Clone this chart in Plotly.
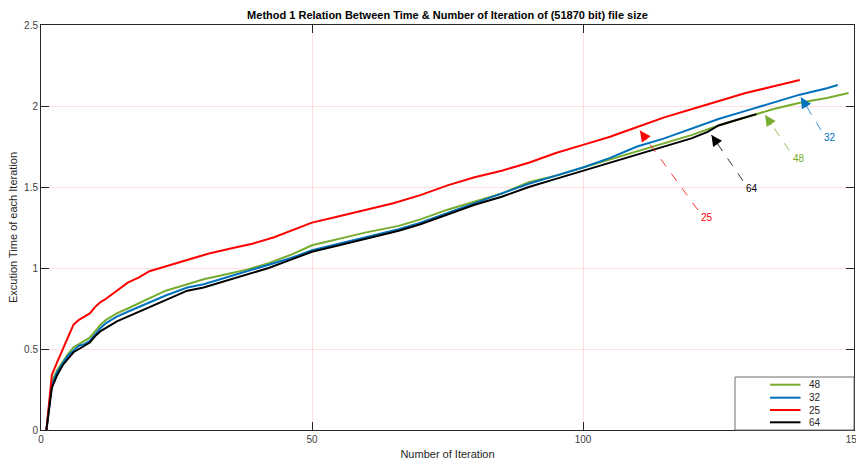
import plotly.graph_objects as go

# ---------------- data ----------------
names = ["48", "32", "25", "64"]
colors = ["#77AC30", "#0072BD", "#FF0000", "#000000"]

x48 = [1, 2, 3, 4, 5, 6, 7, 8, 9, 10, 11, 12, 14, 16, 18, 20, 23, 27, 30, 34, 38, 42, 46, 50, 55, 60, 66, 70, 75, 80, 85, 90, 95, 100, 105, 110, 115, 120, 125, 130, 135, 140, 145, 149]
y48 = [0, 0.30, 0.37, 0.42, 0.47, 0.51, 0.53, 0.55, 0.57, 0.61, 0.65, 0.68, 0.72, 0.75, 0.78, 0.81, 0.86, 0.90, 0.93, 0.96, 0.99, 1.03, 1.08, 1.14, 1.18, 1.22, 1.26, 1.30, 1.36, 1.41, 1.46, 1.53, 1.57, 1.62, 1.67, 1.72, 1.77, 1.82, 1.88, 1.93, 1.98, 2.02, 2.05, 2.08]

x32 = [1, 2, 3, 4, 5, 6, 7, 8, 9, 10, 11, 12, 14, 16, 18, 20, 23, 27, 30, 34, 38, 42, 46, 50, 55, 60, 66, 70, 75, 80, 85, 90, 95, 100, 105, 110, 115, 120, 125, 130, 135, 140, 145, 147]
y32 = [0, 0.28, 0.36, 0.41, 0.46, 0.49, 0.52, 0.53, 0.55, 0.59, 0.63, 0.66, 0.70, 0.73, 0.76, 0.79, 0.83, 0.88, 0.90, 0.94, 0.98, 1.02, 1.06, 1.11, 1.15, 1.19, 1.24, 1.28, 1.34, 1.40, 1.46, 1.52, 1.57, 1.62, 1.68, 1.75, 1.80, 1.86, 1.92, 1.97, 2.02, 2.07, 2.11, 2.13]

x25 = [1, 2, 3, 4, 5, 6, 7, 8, 9, 10, 11, 12, 14, 16, 18, 20, 22, 25, 28, 31, 35, 39, 43, 47, 50, 55, 60, 65, 70, 75, 80, 85, 90, 95, 100, 105, 110, 115, 120, 125, 130, 135, 140]
y25 = [0, 0.34, 0.42, 0.50, 0.58, 0.65, 0.68, 0.70, 0.72, 0.76, 0.79, 0.81, 0.86, 0.91, 0.94, 0.98, 1.00, 1.03, 1.06, 1.09, 1.12, 1.15, 1.19, 1.24, 1.28, 1.32, 1.36, 1.40, 1.45, 1.51, 1.56, 1.60, 1.65, 1.71, 1.76, 1.81, 1.87, 1.93, 1.98, 2.03, 2.08, 2.12, 2.16]

x64 = [1, 2, 3, 4, 5, 6, 7, 8, 9, 10, 11, 12, 14, 16, 18, 20, 23, 27, 30, 34, 38, 42, 46, 50, 55, 60, 66, 70, 75, 80, 85, 90, 95, 100, 105, 110, 115, 120, 123, 125, 128, 132]
y64 = [0, 0.26, 0.34, 0.40, 0.44, 0.48, 0.50, 0.52, 0.54, 0.58, 0.61, 0.63, 0.67, 0.70, 0.73, 0.76, 0.80, 0.86, 0.88, 0.92, 0.96, 1.00, 1.05, 1.10, 1.14, 1.18, 1.23, 1.27, 1.33, 1.39, 1.44, 1.50, 1.55, 1.60, 1.65, 1.70, 1.75, 1.80, 1.84, 1.88, 1.91, 1.95]

xs = [x48, x32, x25, x64]
ys = [y48, y32, y25, y64]

x_ticks = [0, 50, 100, 150]
y_ticks = [0, 0.5, 1, 1.5, 2, 2.5]

# annotation labels (arrow head, dashed tail start, label position)
ann_head_x = [133.6, 140.2, 110.5, 123.7]
ann_head_y = [1.944, 2.054, 1.848, 1.821]
ann_tail_x = [138.1, 143.9, 121.2, 129.5]
ann_tail_y = [1.724, 1.852, 1.358, 1.539]
ann_text_x = [139.8, 145.6, 122.9, 131.2]
ann_text_y = [1.677, 1.807, 1.313, 1.488]

title = "Method 1 Relation Between Time & Number of Iteration of (51870 bit) file size"
x_title = "Number of Iteration"
y_title = "Excution Time of each Iteration"

FONT = "Arial, 'Liberation Sans', Helvetica, sans-serif"

# ---------------- figure ----------------
fig = go.Figure()
for n, c, xv, yv in zip(names, colors, xs, ys):
    fig.add_trace(go.Scatter(x=xv, y=yv, mode="lines", name=n,
                             line=dict(color=c, width=2), showlegend=False))

W, H = 856, 460
ml, mr, mt, mb = 41, 2, 25, 30
pw, ph = W - ml - mr, H - mt - mb

shapes = []
annotations = []
for i, c in enumerate(colors):
    # dashed shaft
    shapes.append(dict(type="line", xref="x", yref="y",
                       x0=ann_tail_x[i], y0=ann_tail_y[i],
                       x1=ann_head_x[i], y1=ann_head_y[i],
                       line=dict(color=c, width=0.8, dash="dash"), layer="above"))
    # solid arrow head (short offset along the shaft, in pixels)
    dxp = (ann_tail_x[i] - ann_head_x[i]) * pw / 150.0
    dyp = (ann_head_y[i] - ann_tail_y[i]) * ph / 2.5
    L = (dxp ** 2 + dyp ** 2) ** 0.5
    annotations.append(dict(x=ann_head_x[i], y=ann_head_y[i], xref="x", yref="y",
                            ax=dxp / L * 13, ay=dyp / L * 13,
                            text="", showarrow=True, arrowhead=2, arrowsize=1.8,
                            arrowwidth=1.2, arrowcolor=c))
    annotations.append(dict(x=ann_text_x[i], y=ann_text_y[i], xref="x", yref="y",
                            text=names[i], showarrow=False,
                            font=dict(family=FONT, size=10, color=c)))

# compact MATLAB-style legend box
def px2x(p):
    return (p - ml) / pw

def py2y(p):
    return (H - mb - p) / ph

shapes.append(dict(type="rect", xref="paper", yref="paper",
                   x0=px2x(735), x1=1.0, y0=0.0, y1=py2y(377),
                   line=dict(color="#6e6e6e", width=1), fillcolor="white", layer="above"))
rows = [384.7, 397.7, 410.0, 422.3]
for n, c, r in zip(names, colors, rows):
    shapes.append(dict(type="line", xref="paper", yref="paper",
                       x0=px2x(770), x1=px2x(800.5), y0=py2y(r), y1=py2y(r),
                       line=dict(color=c, width=2), layer="above"))
    annotations.append(dict(x=px2x(807), y=py2y(r), xref="paper", yref="paper",
                            xanchor="left", yanchor="middle", text=n, showarrow=False,
                            font=dict(family=FONT, size=10, color="#262626")))

axis_common = dict(showline=True, linecolor="#262626", linewidth=1, mirror="ticks",
                   ticks="inside", ticklen=8, tickcolor="#262626", tickwidth=1,
                   showgrid=True, gridcolor="rgba(255,0,0,0.12)", gridwidth=1,
                   zeroline=False, automargin=False, ticklabeloverflow="allow",
                   tickfont=dict(family=FONT, size=10, color="#404040"))

fig.update_layout(
    width=W, height=H,
    margin=dict(l=ml, r=mr, t=mt, b=mb),
    paper_bgcolor="white", plot_bgcolor="white",
    title=dict(text="<b>" + title.replace("&", "&amp;") + "</b>", x=(ml + pw / 2) / W, xanchor="center",
               y=1 - 15 / H, yanchor="middle",
               font=dict(family=FONT, size=11, color="#000000")),
    xaxis=dict(range=[0, 150], tickvals=x_ticks, ticktext=[str(v) for v in x_ticks],
               title=dict(text=x_title, standoff=7, font=dict(family=FONT, size=11, color="#262626")),
               **axis_common),
    yaxis=dict(range=[0, 2.5], tickvals=y_ticks, ticktext=[("%g" % v) for v in y_ticks],
               title=dict(text=y_title, standoff=4, font=dict(family=FONT, size=11, color="#262626")),
               **axis_common),
    shapes=shapes,
    annotations=annotations,
    showlegend=False,
)

fig.write_html("out.html", config={"displayModeBar": False},
               post_script="document.body.style.margin='0';document.body.style.overflow='hidden';")
